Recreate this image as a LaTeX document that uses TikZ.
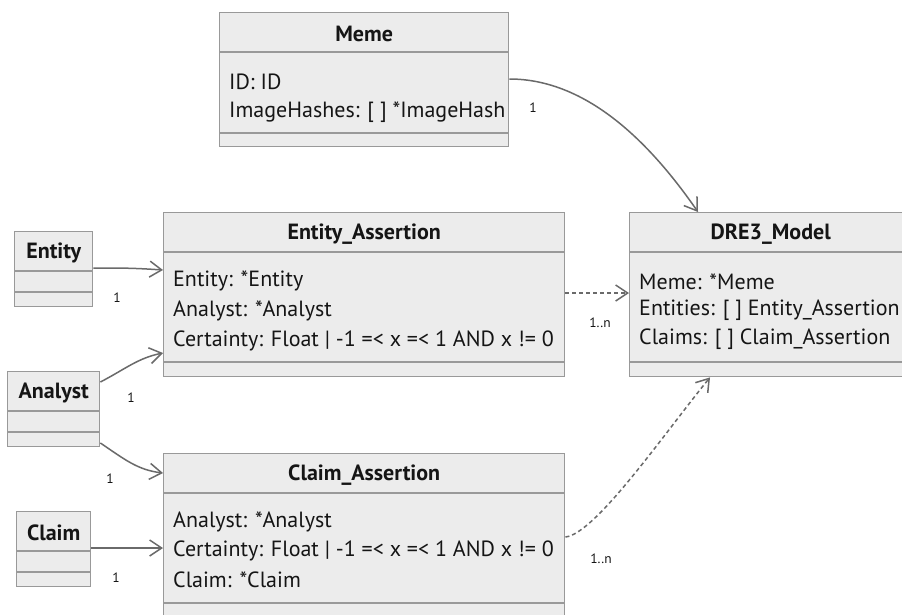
\documentclass[tikz,border=0pt]{standalone}
\usepackage{fontspec}
\setmainfont{PT Sans}
\usetikzlibrary{arrows.meta}
\definecolor{boxfill}{HTML}{ECECEC}
\definecolor{boxline}{HTML}{999999}
\definecolor{wire}{HTML}{6A6A6A}
\definecolor{ink}{HTML}{151515}

% class box: name, x, y, width, height, header rule offset, attribute rule offset
\newcommand\umlbox[7]{%
  \node[classbox, minimum width=#4pt, minimum height=#5pt] (#1) at (#2,#3) {};
  \draw[sep] ([yshift=-#6pt]#1.north west) -- ([yshift=-#6pt]#1.north east);
  \draw[sep] ([yshift=-#7pt]#1.north west) -- ([yshift=-#7pt]#1.north east);
}

\begin{document}
\begin{tikzpicture}[x=1pt,y=-1pt,
  classbox/.style={draw=boxline, fill=boxfill, line width=1.4pt, rectangle, inner sep=0pt, anchor=north west},
  sep/.style={draw=boxline, line width=1.4pt},
  title/.style={font=\fontsize{22}{24}\selectfont\bfseries, text=ink, inner sep=0pt},
  attr/.style={font=\fontsize{22}{24}\selectfont, text=ink, anchor=west, inner sep=0pt},
  mult/.style={font=\fontsize{13.5}{15}\selectfont, text=ink, inner sep=0pt},
  assoc/.style={draw=wire, line width=1.5pt, -{Straight Barb[length=12pt,width=16pt]}},
  dep/.style={assoc, dash pattern=on 4pt off 3pt},
]
\clip (0,0) rectangle (902,614);
\fill[white] (0,0) rectangle (902,614);

% classes
\umlbox{meme}{219}{12}{289}{134}{40}{121}
\umlbox{entAssert}{163}{212}{401}{164}{40}{150}
\umlbox{model}{629}{212}{282}{164}{40}{150}
\umlbox{entity}{14}{231}{78}{75}{40}{61}
\umlbox{analyst}{7}{371}{92}{75}{40}{61}
\umlbox{claim}{16}{511}{74}{75}{40}{61}
\umlbox{claimAssert}{163}{453}{401}{164}{40}{150}

% titles
\node[title] (memeT) at ([yshift=-22pt]meme.north) {Meme};
\node[title] (entAssertT) at ([yshift=-22pt]entAssert.north) {Entity\_Assertion};
\node[title] (modelT) at ([yshift=-22pt]model.north) {DRE3\_Model};
\node[title] (entityT) at ([yshift=-22pt]entity.north) {Entity};
\node[title] (analystT) at ([yshift=-22pt]analyst.north) {Analyst};
\node[title] (claimT) at ([yshift=-22pt]claim.north) {Claim};
\node[title] (claimAssertT) at ([yshift=-22pt]claimAssert.north) {Claim\_Assertion};

% attributes
\node[attr] (memeA1) at ([xshift=10pt,yshift=-70pt]meme.north west) {ID: ID};
\node[attr] (memeA2) at ([xshift=10pt,yshift=-100pt]meme.north west) {ImageHashes: [ ] *ImageHash};

\node[attr] (entA1) at ([xshift=10pt,yshift=-69pt]entAssert.north west) {Entity: *Entity};
\node[attr] (entA2) at ([xshift=10pt,yshift=-99pt]entAssert.north west) {Analyst: *Analyst};
\node[attr] (entA3) at ([xshift=10pt,yshift=-129pt]entAssert.north west) {Certainty: Float | -1 =< x =< 1 AND x != 0};

\node[attr] (modelA1) at ([xshift=10pt,yshift=-70pt]model.north west) {Meme: *Meme};
\node[attr] (modelA2) at ([xshift=10pt,yshift=-98pt]model.north west) {Entities: [ ] Entity\_Assertion};
\node[attr] (modelA3) at ([xshift=10pt,yshift=-127pt]model.north west) {Claims: [ ] Claim\_Assertion};

\node[attr] (claimA1) at ([xshift=10pt,yshift=-69pt]claimAssert.north west) {Analyst: *Analyst};
\node[attr] (claimA2) at ([xshift=10pt,yshift=-98pt]claimAssert.north west) {Certainty: Float | -1 =< x =< 1 AND x != 0};
\node[attr] (claimA3) at ([xshift=10pt,yshift=-127pt]claimAssert.north west) {Claim: *Claim};

% associations
\draw[assoc] ([yshift=-67pt]meme.north east) .. controls +(80,0) and +(-45,-65) .. ([xshift=69pt]model.north west);
\draw[assoc] ([yshift=-37pt]entity.north east) .. controls +(30,0) and +(-30,-2) .. ([yshift=-58pt]entAssert.north west);
\draw[assoc] ([yshift=-11pt]analyst.north east) .. controls +(25,-13) and +(-25,5) .. ([yshift=-141pt]entAssert.north west);
\draw[assoc] ([yshift=-72pt]analyst.north east) .. controls +(25,17) and +(-25,-3) .. ([yshift=-20pt]claimAssert.north west);
\draw[assoc] ([yshift=-37pt]claim.north east) -- ([yshift=-95pt]claimAssert.north west);
\draw[dep] ([yshift=-81pt]entAssert.north east) -- ([yshift=-81pt]model.north west);
\draw[dep] ([yshift=-84pt]claimAssert.north east) .. controls +(30,-3) and +(-45,55) .. ([xshift=81pt]model.south west);

% multiplicities
\node[mult] (mMeme) at (533,108) {1};
\node[mult] (mEntity) at (117,298) {1};
\node[mult] (mAnalystE) at (131,398) {1};
\node[mult] (mAnalystC) at (110,479) {1};
\node[mult] (mClaim) at (116,578) {1};
\node[mult] (mEntAssert) at (600,323) {1..n};
\node[mult] (mClaimAssert) at (601,559) {1..n};
\end{tikzpicture}
\end{document}
